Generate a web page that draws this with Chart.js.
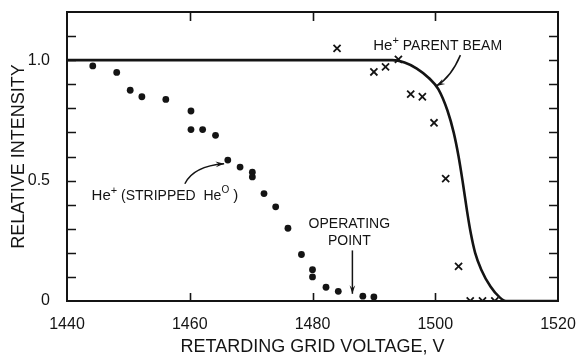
<!DOCTYPE html>
<html>
<head>
<meta charset="utf-8">
<script src="https://cdn.jsdelivr.net/npm/chart.js@4/dist/chart.umd.min.js"></script>
<style>
  html, body { margin: 0; padding: 0; background: #fff; }
  #wrap { width: 578px; height: 358px; }
</style>
</head>
<body>
<div id="wrap"><canvas id="c" width="578" height="358"></canvas></div>
<script>
// ---- Data ----
const xTickValues = [1440, 1460, 1480, 1500, 1520];
const yLabelValues = [0, 0.5, 1.0];

// He+ (stripped He0) measurements (dots)
const strippedV = [1444.2, 1448.1, 1450.3, 1452.2, 1456.1, 1460.2, 1460.2, 1462.1, 1464.2, 1466.2, 1468.2, 1470.2, 1470.2, 1472.1, 1474.0, 1476.0, 1478.2, 1480.0, 1480.0, 1482.2, 1484.2, 1488.2, 1490.0];
const strippedI = [0.976, 0.949, 0.875, 0.848, 0.837, 0.789, 0.712, 0.712, 0.688, 0.585, 0.556, 0.535, 0.515, 0.446, 0.391, 0.302, 0.193, 0.130, 0.100, 0.057, 0.040, 0.020, 0.017];

// He+ parent beam measurements (crosses)
const parentV = [1484.0, 1490.0, 1491.9, 1494.0, 1496.0, 1497.9, 1499.8, 1501.7, 1503.8, 1505.7, 1507.7, 1509.7];
const parentI = [1.049, 0.951, 0.972, 1.003, 0.859, 0.848, 0.740, 0.508, 0.144, 0.0, 0.0, 0.0];

// He+ parent beam curve (solid line)
const curveV = [1440, 1493, 1495, 1497, 1499, 1500.5, 1502, 1503, 1503.8, 1504.5, 1505.2, 1505.8, 1506.5, 1507.5, 1509, 1510.5, 1511.5, 1520];
const curveI = [1.0, 1.0, 0.99, 0.965, 0.925, 0.88, 0.79, 0.70, 0.60, 0.49, 0.37, 0.28, 0.20, 0.13, 0.06, 0.015, 0.0, 0.0];

const toPts = (xs, ys) => xs.map((x, i) => ({ x: x, y: ys[i] }));

const INK = '#141414';
const FONT = "'Liberation Sans', Arial, Helvetica, sans-serif";

// Frame, inward ticks and annotations
const decorPlugin = {
  id: 'decor',
  afterDraw(chart) {
    const ctx = chart.ctx;
    const { left, right, top, bottom } = chart.chartArea;
    const xs = chart.scales.x, ys = chart.scales.y;
    ctx.save();
    ctx.strokeStyle = INK;
    ctx.fillStyle = INK;
    // frame
    ctx.lineWidth = 2;
    ctx.strokeRect(left, top, right - left, bottom - top);
    // y ticks (every 0.1), inward both sides
    ctx.lineWidth = 1.6;
    ys.ticks.forEach(t => {
      if (t.value <= 0.0001 || t.value >= 1.1999) return;
      const py = Math.round(ys.getPixelForValue(t.value)) + 0.5;
      ctx.beginPath();
      ctx.moveTo(left, py); ctx.lineTo(left + 9, py);
      ctx.moveTo(right, py); ctx.lineTo(right - 9, py);
      ctx.stroke();
    });
    // x ticks, inward top and bottom
    xs.ticks.forEach(t => {
      if (t.value <= 1440 || t.value >= 1520) return;
      const px = Math.round(xs.getPixelForValue(t.value)) + 0.5;
      ctx.beginPath();
      ctx.moveTo(px, bottom); ctx.lineTo(px, bottom - 8);
      ctx.moveTo(px, top); ctx.lineTo(px, top + 9);
      ctx.stroke();
    });

    const X = v => xs.getPixelForValue(v);
    const Y = v => ys.getPixelForValue(v);

    // rich text helper: pieces [text, size, raise]
    function rich(x, y, pieces, align) {
      let total = 0;
      pieces.forEach(p => { ctx.font = p[1] + 'px ' + FONT; total += ctx.measureText(p[0]).width; });
      let cx = align === 'center' ? x - total / 2 : x;
      ctx.textBaseline = 'alphabetic';
      ctx.textAlign = 'left';
      pieces.forEach(p => {
        ctx.font = p[1] + 'px ' + FONT;
        ctx.fillText(p[0], cx, y - (p[2] || 0));
        cx += ctx.measureText(p[0]).width;
      });
    }
    function arrowHead(x1, y1, x2, y2) {
      const a = Math.atan2(y2 - y1, x2 - x1);
      const L = 9, W = 0.32;
      ctx.beginPath();
      ctx.moveTo(x2, y2);
      ctx.lineTo(x2 - L * Math.cos(a - W), y2 - L * Math.sin(a - W));
      ctx.lineTo(x2 - L * 0.6 * Math.cos(a), y2 - L * 0.6 * Math.sin(a));
      ctx.lineTo(x2 - L * Math.cos(a + W), y2 - L * Math.sin(a + W));
      ctx.closePath();
      ctx.fill();
    }

    // He+ PARENT BEAM
    rich(X(1489.9), Y(1.042), [['He', 15], ['+', 11, 6], [' PARENT BEAM', 14]], 'left');
    ctx.lineWidth = 1.5;
    let sx = X(1504.1), sy = Y(1.021), cx = X(1502.6), cy = Y(0.93), ex = X(1500.2), ey = Y(0.893);
    ctx.beginPath(); ctx.moveTo(sx, sy); ctx.quadraticCurveTo(cx, cy, ex, ey); ctx.stroke();
    arrowHead(cx, cy, ex, ey);

    // He+ (STRIPPED He0)
    rich(X(1444.0), Y(0.418), [['He', 15], ['+', 11, 6], [' (STRIPPED  He', 14], ['O', 10, 7], [' )', 15]], 'left');
    sx = X(1459.2); sy = Y(0.487); cx = X(1460.6); cy = Y(0.56); ex = X(1465.6); ey = Y(0.57);
    ctx.beginPath(); ctx.moveTo(sx, sy); ctx.quadraticCurveTo(cx, cy, ex, ey); ctx.stroke();
    arrowHead(cx, cy, ex, ey);

    // OPERATING POINT
    rich(X(1486.0), Y(0.302), [['OPERATING', 14]], 'center');
    rich(X(1486.0), Y(0.232), [['POINT', 14]], 'center');
    sx = X(1486.5); sy = Y(0.21); ex = X(1486.5); ey = Y(0.03);
    ctx.beginPath(); ctx.moveTo(sx, sy); ctx.lineTo(ex, ey); ctx.stroke();
    arrowHead(sx, sy, ex, ey);

    ctx.restore();
  }
};

new Chart(document.getElementById('c'), {
  type: 'scatter',
  data: {
    datasets: [
      {
        label: 'He+ parent beam (curve)',
        data: toPts(curveV, curveI),
        showLine: true,
        borderColor: INK,
        borderWidth: 2.6,
        pointRadius: 0,
        cubicInterpolationMode: 'monotone',
        fill: false
      },
      {
        label: 'He+ (stripped He0)',
        data: toPts(strippedV, strippedI),
        pointStyle: 'circle',
        pointRadius: 3.4,
        backgroundColor: INK,
        borderColor: INK,
        borderWidth: 0
      },
      {
        label: 'He+ parent beam',
        data: toPts(parentV, parentI),
        pointStyle: 'crossRot',
        pointRadius: 5,
        borderColor: INK,
        borderWidth: 1.8
      }
    ]
  },
  options: {
    responsive: false,
    animation: false,
    layout: { padding: { top: 12, right: 20, left: 0, bottom: 0 } },
    plugins: { legend: { display: false }, tooltip: { enabled: false } },
    scales: {
      x: {
        type: 'linear',
        min: 1440, max: 1520,
        afterBuildTicks: s => { s.ticks = xTickValues.map(v => ({ value: v })); },
        ticks: {
          color: INK,
          font: { family: FONT, size: 16 },
          padding: 6,
          maxRotation: 0,
          callback: v => String(v)
        },
        grid: { display: false },
        border: { display: false },
        title: {
          display: true,
          text: 'RETARDING GRID VOLTAGE, V',
          color: INK,
          font: { family: FONT, size: 18 },
          padding: { top: 0, bottom: 0 }
        },
        afterFit: s => { s.height = 57; s.paddingLeft = 0; s.paddingRight = 0; }
      },
      y: {
        min: 0, max: 1.2,
        ticks: {
          stepSize: 0.1,
          color: INK,
          font: { family: FONT, size: 16 },
          padding: 9,
          autoSkip: false,
          callback: v => {
            for (const L of yLabelValues) {
              if (Math.abs(v - L) < 1e-6) return L === 0 ? '0' : L.toFixed(1);
            }
            return '';
          }
        },
        grid: { display: false },
        border: { display: false },
        title: {
          display: true,
          text: 'RELATIVE INTENSITY',
          color: INK,
          font: { family: FONT, size: 18 },
          padding: { top: 8, bottom: 0 }
        },
        afterFit: s => { s.width = 67; s.paddingTop = 0; s.paddingBottom = 0; }
      }
    }
  },
  plugins: [decorPlugin]
});
</script>
</body>
</html>
